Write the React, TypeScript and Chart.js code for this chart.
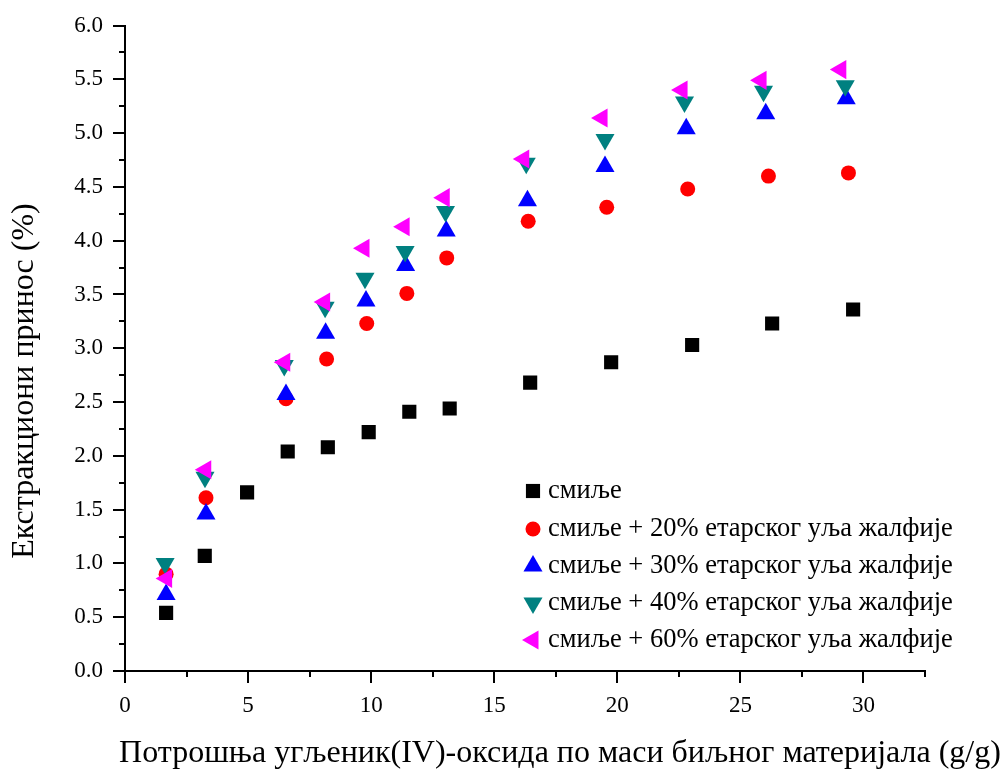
import React, { useEffect, useRef } from "react";
import { Chart, registerables } from "chart.js";

Chart.register(...registerables);

const seriesNames = [
  "смиље",
  "смиље + 20% етарског уља жалфије",
  "смиље + 30% етарског уља жалфије",
  "смиље + 40% етарског уља жалфије",
  "смиље + 60% етарског уља жалфије",
];

const xTitle = "Потрошња угљеник(IV)-оксида по маси биљног материјала (g/g)";
const yTitle = "Екстракциони принос (%)";

const xBase = [1.67, 3.24, 4.96, 6.61, 8.24, 9.9, 11.55, 13.19, 16.46, 19.75, 23.04, 26.29, 29.58];
const yBase = [0.54, 1.07, 1.66, 2.04, 2.08, 2.22, 2.41, 2.44, 2.68, 2.87, 3.03, 3.23, 3.36];

const x20 = [1.67, 3.29, 6.54, 8.19, 9.82, 11.45, 13.07, 16.38, 19.57, 22.86, 26.14, 29.39];
const y20 = [0.9, 1.61, 2.53, 2.9, 3.23, 3.51, 3.84, 4.18, 4.31, 4.48, 4.6, 4.63];

const x30 = [1.67, 3.29, 6.54, 8.15, 9.79, 11.4, 13.05, 16.35, 19.5, 22.8, 26.03, 29.3];
const y30 = [0.71, 1.46, 2.57, 3.14, 3.44, 3.77, 4.09, 4.37, 4.69, 5.04, 5.18, 5.32];

const x40 = [1.63, 3.25, 6.47, 8.13, 9.75, 11.38, 13.02, 16.3, 19.5, 22.73, 25.94, 29.26];
const y40 = [1.0, 1.8, 2.84, 3.38, 3.65, 3.9, 4.27, 4.72, 4.94, 5.29, 5.39, 5.44];

const x60 = [1.69, 3.28, 6.49, 8.11, 9.71, 11.34, 12.97, 16.2, 19.38, 22.63, 25.84, 29.08];
const y60 = [0.86, 1.87, 2.87, 3.43, 3.93, 4.13, 4.4, 4.76, 5.14, 5.4, 5.49, 5.59];

const xTicks = [0, 5, 10, 15, 20, 25, 30];
const yTickLabels = ["0.0", "0.5", "1.0", "1.5", "2.0", "2.5", "3.0", "3.5", "4.0", "4.5", "5.0", "5.5", "6.0"];

const colors = ["#000000", "#ff0000", "#0000ff", "#008080", "#ff00ff"];
const styles = ["rect", "circle", "triangle", "triangle", "triangle"];
const rotations = [0, 0, 0, 180, -90];
const radii = [10, 7.5, 11, 11, 11];

const FONT = "'Liberation Serif', 'Times New Roman', serif";

function pts(xs: number[], ys: number[]) {
  return xs.map((x, i) => ({ x, y: ys[i] }));
}

function drawMarker(ctx: CanvasRenderingContext2D, kind: number, cx: number, cy: number) {
  ctx.save();
  ctx.fillStyle = colors[kind];
  ctx.translate(cx, cy);
  ctx.rotate((rotations[kind] * Math.PI) / 180);
  ctx.beginPath();
  const r = radii[kind];
  if (styles[kind] === "rect") {
    const s = r * Math.SQRT1_2;
    ctx.rect(-s, -s, 2 * s, 2 * s);
  } else if (styles[kind] === "circle") {
    ctx.arc(0, 0, r, 0, Math.PI * 2);
  } else {
    ctx.moveTo(0, -r);
    ctx.lineTo(r * Math.sin(Math.PI / 3), r / 2);
    ctx.lineTo(-r * Math.sin(Math.PI / 3), r / 2);
    ctx.closePath();
  }
  ctx.fill();
  ctx.restore();
}

const decorPlugin = {
  id: "decor",
  afterDraw(chart: any) {
    const ctx: CanvasRenderingContext2D = chart.ctx;
    const xs = chart.scales.x;
    const ys = chart.scales.y;
    const area = chart.chartArea;
    ctx.save();
    ctx.strokeStyle = "#000";
    ctx.lineWidth = 2;
    // y ticks
    for (let v = 0; v <= 6.0001; v += 0.25) {
      const py = Math.round(ys.getPixelForValue(v));
      const major = Math.abs(v * 2 - Math.round(v * 2)) < 1e-6;
      const len = major ? 12 : 6;
      ctx.beginPath();
      ctx.moveTo(area.left, py);
      ctx.lineTo(area.left - len, py);
      ctx.stroke();
    }
    // x ticks
    for (let v = 0; v <= 32.5001; v += 2.5) {
      const px = Math.round(xs.getPixelForValue(v));
      const major = Math.abs(v / 5 - Math.round(v / 5)) < 1e-6;
      const len = major ? 12 : 6;
      ctx.beginPath();
      ctx.moveTo(px, area.bottom);
      ctx.lineTo(px, area.bottom + len);
      ctx.stroke();
    }
    // axis titles
    ctx.fillStyle = "#000";
    ctx.font = `32px ${FONT}`;
    ctx.textAlign = "center";
    ctx.textBaseline = "alphabetic";
    ctx.fillText(xTitle, 560, 762);
    ctx.save();
    ctx.translate(33, 381);
    ctx.rotate(-Math.PI / 2);
    ctx.fillText(yTitle, 0, 0);
    ctx.restore();
    // legend
    ctx.font = `26.5px ${FONT}`;
    ctx.textAlign = "left";
    ctx.textBaseline = "middle";
    const rowY = [491, 529, 566, 603, 640];
    seriesNames.forEach((name, i) => {
      drawMarker(ctx, i, 533, rowY[i]);
      ctx.fillStyle = "#000";
      ctx.fillText(name, 548, rowY[i]);
    });
    ctx.restore();
  },
};

export default function App() {
  const ref = useRef<HTMLCanvasElement>(null);
  useEffect(() => {
    if (!ref.current) return;
    const allX = [xBase, x20, x30, x40, x60];
    const allY = [yBase, y20, y30, y40, y60];
    const datasets = seriesNames.map((name, i) => ({
      label: name,
      data: pts(allX[i], allY[i]),
      backgroundColor: colors[i],
      borderColor: colors[i],
      borderWidth: 0,
      pointStyle: styles[i] as any,
      pointRadius: radii[i],
      pointRotation: rotations[i],
      pointHoverRadius: radii[i],
      showLine: false,
      order: 4 - i,
    }));
    const chart = new Chart(ref.current, {
      type: "scatter",
      data: { datasets },
      options: {
        animation: false,
        responsive: false,
        devicePixelRatio: 1,
        layout: { padding: { left: 0, top: 14, right: 81, bottom: 0 } },
        plugins: { legend: { display: false }, tooltip: { enabled: false } },
        scales: {
          x: {
            type: "linear",
            min: 0,
            max: 32.5,
            afterFit: (s: any) => {
              s.height = 98;
            },
            afterBuildTicks: (s: any) => {
              s.ticks = xTicks.map((v) => ({ value: v }));
            },
            grid: { display: false },
            border: { display: true, color: "#000", width: 2 },
            ticks: {
              color: "#000",
              font: { family: FONT, size: 23 },
              padding: 13,
              maxRotation: 0,
              callback: (v: any) => String(v),
            },
          },
          y: {
            type: "linear",
            min: 0,
            max: 6,
            afterFit: (s: any) => {
              s.width = 125;
            },
            afterBuildTicks: (s: any) => {
              s.ticks = yTickLabels.map((t) => ({ value: parseFloat(t) }));
            },
            grid: { display: false },
            border: { display: true, color: "#000", width: 2 },
            ticks: {
              color: "#000",
              font: { family: FONT, size: 23, lineHeight: 1 },
              padding: 14,
              callback: (v: any) => yTickLabels.find((t) => parseFloat(t) === v) ?? "",
            },
          },
        },
      },
      plugins: [decorPlugin],
    });
    return () => chart.destroy();
  }, []);
  return (
    <div style={{ position: "fixed", left: 0, top: 0, width: 1006, height: 769, background: "#fff" }}>
      <canvas ref={ref} width={1006} height={769} />
    </div>
  );
}
